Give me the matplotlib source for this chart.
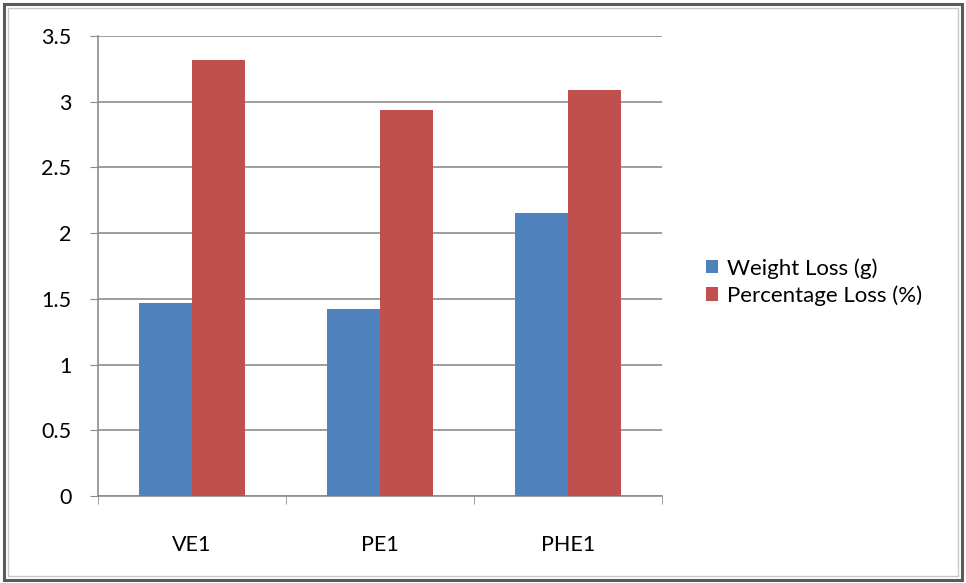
import matplotlib.pyplot as plt
from matplotlib.patches import Rectangle
import numpy as np

samples = ["VE1", "PE1", "PHE1"]
weight_loss = [1.47, 1.42, 2.15]
percent_loss = [3.32, 2.94, 3.09]
series_names = ["Weight Loss (g)", "Percentage Loss (%)"]
y_ticks = [0, 0.5, 1, 1.5, 2, 2.5, 3, 3.5]
y_labels = ["0", "0.5", "1", "1.5", "2", "2.5", "3", "3.5"]

plt.rcParams['font.family'] = ['Lato', 'DejaVu Sans']

fig = plt.figure(figsize=(9.66, 5.83), dpi=100)
ax = fig.add_axes([98 / 966, 1 - 496 / 583, 564 / 966, 460 / 583])

x = np.arange(len(samples))
w = 0.284
ax.bar(x - w / 2, weight_loss, w, color="#4F81BD", label=series_names[0], zorder=3)
ax.bar(x + w / 2, percent_loss, w, color="#C0504D", label=series_names[1], zorder=3)

ax.set_xlim(-0.5, 2.5)
ax.set_ylim(0, 3.5)
ax.set_yticks(y_ticks)
ax.set_yticklabels(y_labels)
ax.yaxis.grid(True, color="#8c8c8c", linewidth=1.2, zorder=0)

# category labels centred, tick marks on the category boundaries
ax.set_xticks(x)
ax.set_xticklabels(samples)
ax.set_xticks([-0.5, 0.5, 1.5, 2.5], minor=True)
ax.tick_params(axis="x", which="major", length=0, pad=28, labelsize=15.5)
ax.tick_params(axis="x", which="minor", length=6, color="#8c8c8c", direction="out")
ax.tick_params(axis="y", length=6, color="#8c8c8c", pad=13, labelsize=15.5)

for side in ["top", "right"]:
    ax.spines[side].set_visible(False)
for side in ["left", "bottom"]:
    ax.spines[side].set_color("#8c8c8c")
    ax.spines[side].set_linewidth(1.2)

fig.legend(loc="center left", bbox_to_anchor=(706 / 966, 1 - 282 / 583),
           frameon=False, fontsize=16, handlelength=0.55, handleheight=0.55,
           handletextpad=0.4, labelspacing=0.3, borderpad=0, borderaxespad=0)

# chart frame
fig.patches.append(Rectangle((4 / 966, 3 / 583), 958 / 966, 576 / 583,
                             transform=fig.transFigure, fill=False,
                             edgecolor="#5a5a5a", linewidth=2.2))
fig.patches.append(Rectangle((8 / 966, 7 / 583), 950 / 966, 568 / 583,
                             transform=fig.transFigure, fill=False,
                             edgecolor="#c8c8c8", linewidth=1))

fig.savefig("out.png", dpi=100)
